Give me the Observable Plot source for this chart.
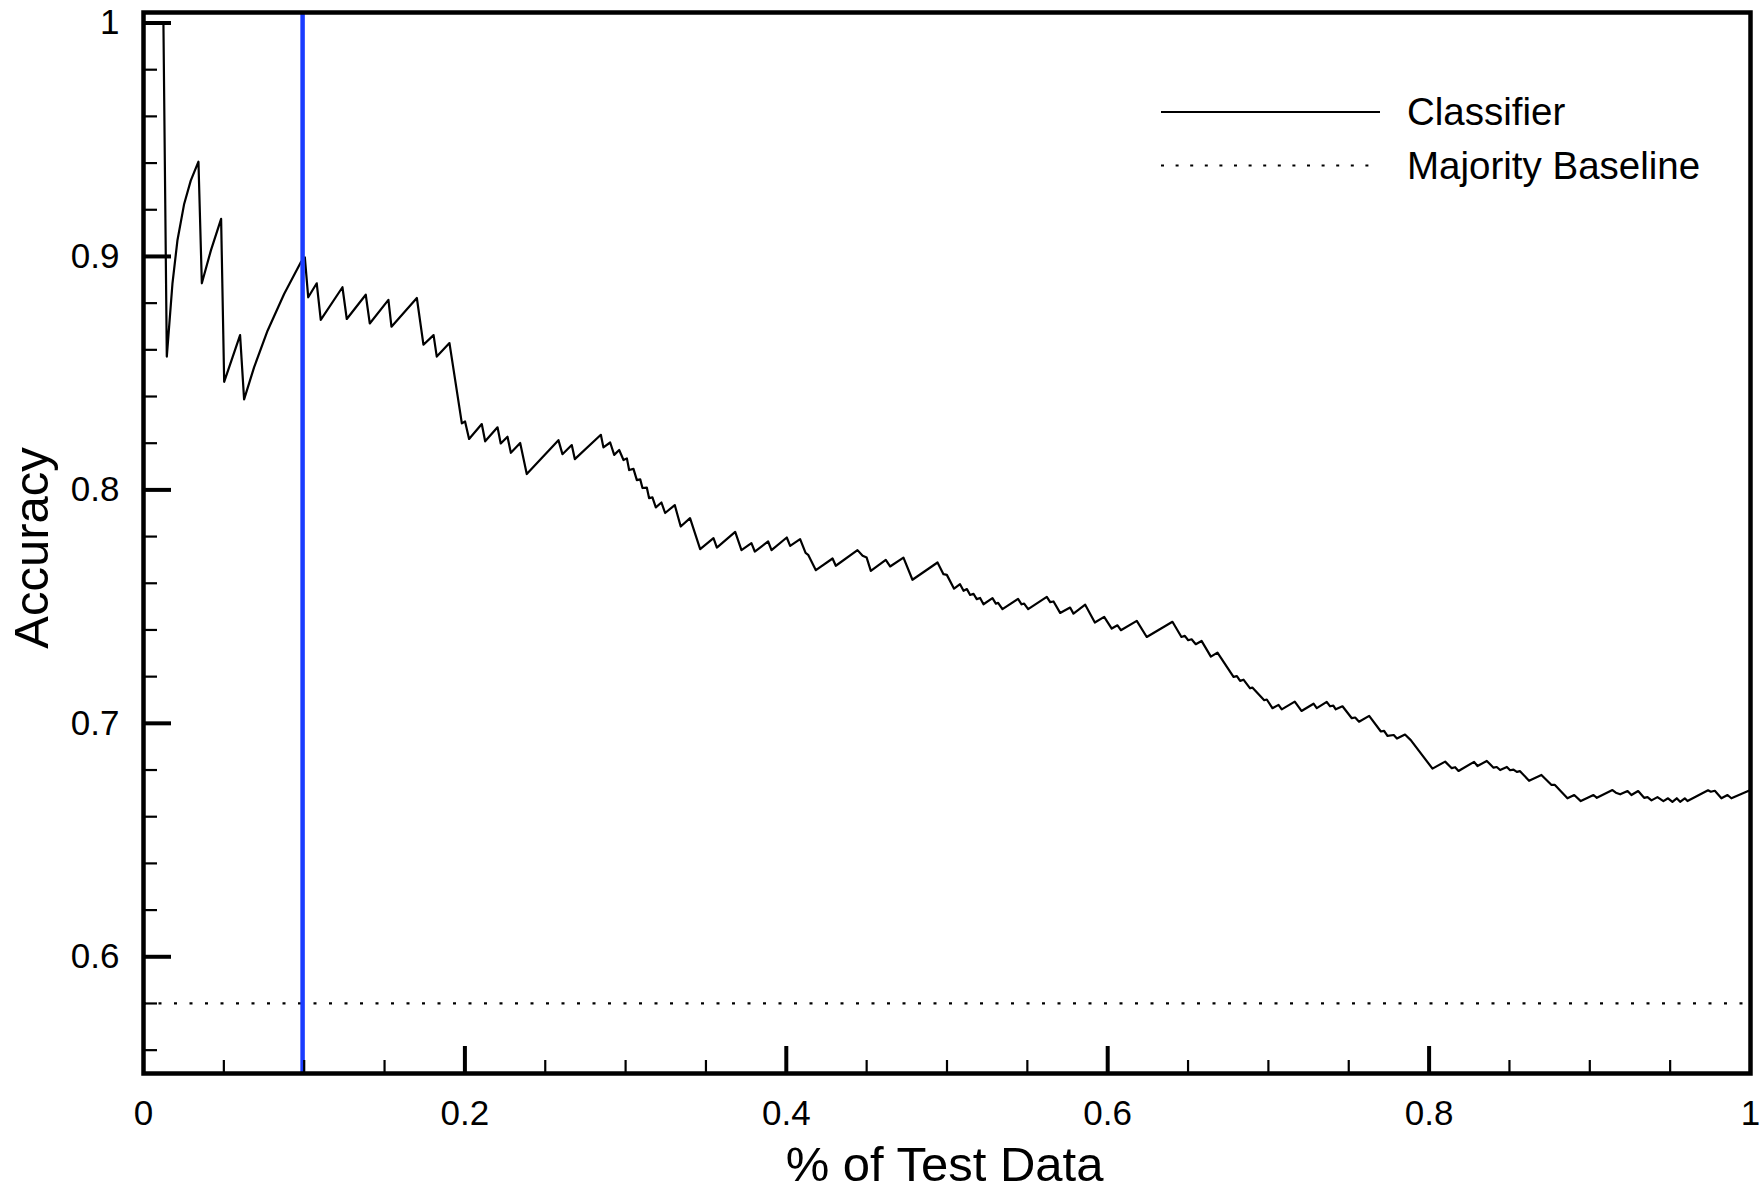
<!DOCTYPE html>
<html><head><meta charset="utf-8">
<script src="https://cdn.jsdelivr.net/npm/d3@7"></script>
<script src="https://cdn.jsdelivr.net/npm/@observablehq/plot@0.6"></script>
<style>
html,body{margin:0;padding:0;background:#fff;}
#wrap{position:relative;width:1762px;height:1190px;}
</style></head><body><div id="wrap"></div>
<script>
// ---- data ----
const testFraction = [
0.0124,0.0145,0.0180,0.0211,0.0253,0.0294,0.0342,0.0363,0.0419,0.0483,
0.0502,0.0601,0.0626,0.0688,0.0772,0.0875,0.0979,0.1004,0.1025,0.1078,
0.1103,0.1238,0.1265,0.1383,0.1408,0.1524,0.1543,0.1701,0.1742,0.1805,
0.1825,0.1904,0.1981,0.2001,0.2026,0.2105,0.2126,0.2203,0.2223,0.2265,
0.2286,0.2344,0.2385,0.2582,0.2607,0.2665,0.2684,0.2846,0.2862,0.2904,
0.2929,0.2960,0.2987,0.3008,0.3022,0.3049,0.3070,0.3091,0.3105,0.3132,
0.3146,0.3167,0.3188,0.3223,0.3246,0.3306,0.3343,0.3401,0.3464,0.3547,
0.3568,0.3682,0.3721,0.3783,0.3804,0.3887,0.3908,0.4003,0.4024,0.4086,
0.4120,0.4136,0.4184,0.4288,0.4308,0.4443,0.4475,0.4500,0.4526,0.4619,
0.4646,0.4729,0.4785,0.4941,0.4978,0.4999,0.5044,0.5081,0.5103,0.5124,
0.5144,0.5165,0.5185,0.5206,0.5227,0.5283,0.5304,0.5318,0.5345,0.5442,
0.5464,0.5480,0.5505,0.5621,0.5642,0.5663,0.5704,0.5766,0.5787,0.5860,
0.5920,0.5978,0.6025,0.6061,0.6082,0.6181,0.6243,0.6403,0.6459,0.6480,
0.6501,0.6522,0.6548,0.6584,0.6642,0.6683,0.6783,0.6804,0.6824,0.6845,
0.6886,0.6900,0.6974,0.6990,0.7025,0.7063,0.7083,0.7164,0.7206,0.7281,
0.7301,0.7363,0.7384,0.7404,0.7419,0.7461,0.7519,0.7540,0.7564,0.7627,
0.7700,0.7720,0.7741,0.7780,0.7800,0.7850,0.7886,0.8021,0.8100,0.8141,
0.8162,0.8183,0.8280,0.8301,0.8359,0.8401,0.8421,0.8442,0.8484,0.8504,
0.8525,0.8546,0.8566,0.8622,0.8699,0.8762,0.8783,0.8861,0.8903,0.8944,
0.9023,0.9044,0.9141,0.9162,0.9189,0.9235,0.9259,0.9301,0.9338,0.9359,
0.9384,0.9421,0.9458,0.9487,0.9514,0.9541,0.9562,0.9591,0.9608,0.9736,
0.9753,0.9778,0.9819,0.9857,0.9881,1.0000
];
const accuracy = [
1.0000,0.8571,0.8882,0.9068,0.9225,0.9325,0.9406,0.8885,0.9025,0.9161,
0.8463,0.8663,0.8388,0.8525,0.8682,0.8839,0.8975,0.8996,0.8825,0.8885,
0.8728,0.8868,0.8732,0.8836,0.8713,0.8814,0.8699,0.8822,0.8622,0.8663,
0.8571,0.8629,0.8285,0.8293,0.8218,0.8282,0.8208,0.8268,0.8199,0.8228,
0.8159,0.8201,0.8068,0.8213,0.8153,0.8192,0.8132,0.8236,0.8182,0.8203,
0.8150,0.8171,0.8128,0.8135,0.8085,0.8090,0.8042,0.8045,0.8008,0.8010,
0.7965,0.7968,0.7925,0.7946,0.7901,0.7935,0.7843,0.7879,0.7746,0.7793,
0.7753,0.7820,0.7742,0.7772,0.7736,0.7779,0.7742,0.7796,0.7760,0.7789,
0.7730,0.7722,0.7656,0.7706,0.7675,0.7742,0.7718,0.7710,0.7653,0.7700,
0.7672,0.7710,0.7615,0.7689,0.7639,0.7636,0.7577,0.7596,0.7568,0.7575,
0.7550,0.7555,0.7532,0.7537,0.7510,0.7536,0.7513,0.7516,0.7489,0.7533,
0.7510,0.7513,0.7489,0.7542,0.7519,0.7522,0.7473,0.7496,0.7470,0.7508,
0.7432,0.7456,0.7406,0.7420,0.7399,0.7439,0.7370,0.7435,0.7370,0.7375,
0.7356,0.7360,0.7339,0.7353,0.7286,0.7303,0.7199,0.7202,0.7182,0.7187,
0.7150,0.7153,0.7099,0.7102,0.7065,0.7079,0.7060,0.7093,0.7053,0.7084,
0.7065,0.7092,0.7073,0.7076,0.7060,0.7073,0.7022,0.7025,0.7007,0.7032,
0.6965,0.6968,0.6946,0.6950,0.6935,0.6952,0.6928,0.6806,0.6836,0.6808,
0.6812,0.6796,0.6835,0.6817,0.6839,0.6810,0.6813,0.6800,0.6813,0.6799,
0.6802,0.6792,0.6795,0.6754,0.6779,0.6736,0.6736,0.6679,0.6693,0.6667,
0.6693,0.6681,0.6714,0.6703,0.6696,0.6710,0.6693,0.6710,0.6681,0.6684,
0.6670,0.6684,0.6667,0.6679,0.6664,0.6679,0.6664,0.6679,0.6667,0.6713,
0.6707,0.6711,0.6679,0.6693,0.6679,0.6714
];
const majorityBaseline = 0.58;
const markerFraction = 0.099;
const seriesNames = ["Classifier", "Majority Baseline"];
const xLabelTicks = [0, 0.2, 0.4, 0.6, 0.8, 1];
const xMajorTicks = [0.2, 0.4, 0.6, 0.8];
const xMinorTicks = [0.05,0.1,0.15,0.25,0.3,0.35,0.45,0.5,0.55,0.65,0.7,0.75,0.85,0.9,0.95];
const yMajorTicks = [0.6, 0.7, 0.8, 0.9, 1];
const yMinorTicks = [0.56,0.58,0.62,0.64,0.66,0.68,0.72,0.74,0.76,0.78,0.82,0.84,0.86,0.88,0.92,0.94,0.96,0.98];
const axisTitles = {x: "% of Test Data", y: "Accuracy"};

// ---- chart ----
const fmt = d => (d === 0 || d === 1) ? String(d) : d3.format(".1f")(d);
const series = testFraction.map((x, i) => ({x, y: accuracy[i]}));
const FONT = "'Liberation Sans', Arial, Helvetica, sans-serif";

const chart = Plot.plot({
  width: 1762, height: 1190,
  marginLeft: 143, marginRight: 12, marginTop: 12, marginBottom: 117,
  x: {domain: [0, 1]},
  y: {domain: [0.55, 1.0045]},
  style: {fontFamily: FONT, fontSize: "35px", color: "#000", background: "#fff"},
  marks: [
    Plot.ruleY([majorityBaseline], {stroke: "#000", strokeWidth: 2.2, strokeDasharray: "3,12.5"}),
    Plot.line(series, {x: "x", y: "y", stroke: "#000", strokeWidth: 2.2}),
    Plot.ruleX([markerFraction], {stroke: "#1a3cff", strokeWidth: 4.5}),
    Plot.axisY({ticks: yMinorTicks, tickSize: -14, strokeWidth: 2.2, fill: "none", tickFormat: () => "", label: null}),
    Plot.axisY({ticks: yMajorTicks, tickSize: -28, strokeWidth: 4, fill: "none", tickFormat: () => "", label: null}),
    Plot.axisY({ticks: yMajorTicks, tickSize: 0, tickPadding: 24, tickFormat: fmt, label: null}),
    Plot.axisX({ticks: xMinorTicks, tickSize: -13, strokeWidth: 2.2, fill: "none", tickFormat: () => "", label: null}),
    Plot.axisX({ticks: xMajorTicks, tickSize: -27, strokeWidth: 4, fill: "none", tickFormat: () => "", label: null}),
    Plot.axisX({ticks: xLabelTicks, tickSize: 0, tickPadding: 27, tickFormat: fmt, label: null}),
    Plot.frame({stroke: "#000", strokeWidth: 4.5}),
    Plot.text([axisTitles.x], {frameAnchor: "bottom", textAnchor: "middle", dx: -2.5, dy: 107, lineAnchor: "bottom", fontSize: 49, fill: "#000"}),
    Plot.text([axisTitles.y], {frameAnchor: "left", textAnchor: "middle", dx: -96, dy: 5, rotate: -90, lineAnchor: "bottom", fontSize: 49, fill: "#000"})
  ]
});
const wrap = document.getElementById("wrap");
wrap.appendChild(chart);

// ---- legend overlay (inside the plot area, top right) ----
const leg = d3.select(wrap).append("svg")
  .attr("width", 1762).attr("height", 200)
  .style("position", "absolute").style("left", "0px").style("top", "0px")
  .style("pointer-events", "none")
  .attr("font-family", FONT).attr("font-size", 38.5);
const styles = [{dash: null, y: 112}, {dash: "3,11.6", y: 165.5}];
seriesNames.forEach((name, i) => {
  const s = styles[i];
  leg.append("line").attr("x1", 1161).attr("x2", 1380).attr("y1", s.y).attr("y2", s.y)
    .attr("stroke", "#000").attr("stroke-width", 2.2).attr("stroke-dasharray", s.dash);
  leg.append("text").attr("x", 1407).attr("y", s.y + 13).attr("fill", "#000").text(name);
});
</script></body></html>
